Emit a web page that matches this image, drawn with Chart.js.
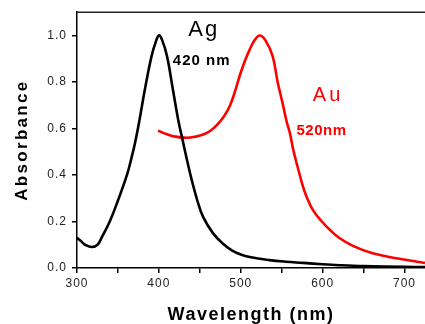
<!DOCTYPE html>
<html>
<head>
<meta charset="utf-8">
<script src="https://cdn.jsdelivr.net/npm/chart.js@4/dist/chart.umd.min.js"></script>
<style>
  html, body { margin: 0; padding: 0; background: #fff; }
  canvas { display: block; }
</style>
</head>
<body>
<canvas id="c" width="425" height="324"></canvas>
<script>
// ---- data ----
const wavelengthsAg = [300, 305, 310, 318, 325, 330, 340, 350, 361, 367, 371, 376, 383, 391, 396, 400, 404, 410, 417, 424, 429, 434, 440, 447, 454, 466, 478, 489, 500, 511, 535, 555, 576, 600, 620, 650, 700, 725];
const absorbanceAg  = [0.13, 0.115, 0.10, 0.09, 0.10, 0.13, 0.20, 0.29, 0.40, 0.48, 0.54, 0.63, 0.77, 0.91, 0.97, 1.00, 0.98, 0.91, 0.77, 0.63, 0.55, 0.47, 0.38, 0.29, 0.22, 0.15, 0.105, 0.076, 0.058, 0.047, 0.034, 0.027, 0.022, 0.016, 0.012, 0.008, 0.005, 0.004];

const wavelengthsAu = [399, 410, 420, 434, 445, 455, 463, 471, 480, 487, 493, 499, 505, 511, 517, 523, 530, 539, 545, 551, 556, 560, 564, 569, 576, 580, 588, 599, 610, 620, 637, 661, 690, 715, 725];
const absorbanceAu  = [0.59, 0.575, 0.565, 0.56, 0.565, 0.575, 0.59, 0.615, 0.655, 0.70, 0.76, 0.83, 0.89, 0.94, 0.98, 1.00, 0.98, 0.91, 0.80, 0.71, 0.63, 0.58, 0.51, 0.44, 0.35, 0.31, 0.25, 0.20, 0.16, 0.13, 0.095, 0.063, 0.042, 0.027, 0.022];

const xTickValues = [300, 350, 400, 450, 500, 550, 600, 650, 700];
const xTickLabels = ['300', '', '400', '', '500', '', '600', '', '700'];
const yTickValues = [0, 0.2, 0.4, 0.6, 0.8, 1.0];
const yTickLabels = ['0.0', '0.2', '0.4', '0.6', '0.8', '1.0'];

const xTitle = 'Wavelength (nm)';
const yTitle = 'Absorbance';

// text annotations anchored in data space: [text, wavelength, absorbance]
const noteText = ['Ag', '420 nm', 'Au', '520nm'];
const noteX = [436, 417, 588, 568];
const noteY = [0.996, 0.873, 0.72, 0.572];
// ------------------------------------------------

const FONT = '"Liberation Sans", Arial, sans-serif';
const noteStyle = [
  { font: '22px ' + FONT, color: '#000', ls: '2px' },
  { font: 'bold 15px ' + FONT, color: '#000', ls: '1px' },
  { font: '20px ' + FONT, color: '#ff0000', ls: '3px' },
  { font: 'bold 15px ' + FONT, color: '#ff0000', ls: '0.5px' }
];

const spacingPlugin = {
  id: 'spacing',
  beforeUpdate(chart) { chart.ctx.letterSpacing = '1px'; },
  beforeDraw(chart) { chart.ctx.letterSpacing = '1px'; }
};

const decorPlugin = {
  id: 'decor',
  afterDraw(chart) {
    const ctx = chart.ctx;
    const a = chart.chartArea;
    const xs = chart.scales.x, ys = chart.scales.y;
    ctx.save();
    // top frame line
    ctx.strokeStyle = '#222';
    ctx.lineWidth = 1.5;
    ctx.beginPath();
    ctx.moveTo(a.left, a.top);
    ctx.lineTo(a.right, a.top);
    ctx.stroke();

    // axis titles
    ctx.fillStyle = '#000';
    ctx.textBaseline = 'alphabetic';
    ctx.textAlign = 'center';
    ctx.letterSpacing = '1.5px';
    ctx.font = 'bold 18px ' + FONT;
    ctx.fillText(xTitle, (a.left + a.right) / 2, a.bottom + 52);

    ctx.save();
    ctx.letterSpacing = '2.3px';
    ctx.font = 'bold 17px ' + FONT;
    ctx.translate(27, (a.top + a.bottom) / 2);
    ctx.rotate(-Math.PI / 2);
    ctx.fillText(yTitle, 0, 0);
    ctx.restore();

    // annotations
    ctx.textAlign = 'left';
    for (let i = 0; i < noteText.length; i++) {
      const s = noteStyle[i];
      ctx.font = s.font;
      ctx.fillStyle = s.color;
      ctx.letterSpacing = s.ls;
      ctx.fillText(noteText[i], xs.getPixelForValue(noteX[i]), ys.getPixelForValue(noteY[i]));
    }
    ctx.restore();
  }
};

const toPoints = (xs, ys) => xs.map((x, i) => ({ x: x, y: ys[i] }));

new Chart(document.getElementById('c'), {
  type: 'line',
  data: {
    datasets: [
      {
        label: 'Ag',
        data: toPoints(wavelengthsAg, absorbanceAg),
        borderColor: '#000000',
        borderWidth: 2.6,
        pointRadius: 0,
        tension: 0.4,
        fill: false
      },
      {
        label: 'Au',
        data: toPoints(wavelengthsAu, absorbanceAu),
        borderColor: '#ff0000',
        borderWidth: 2.6,
        pointRadius: 0,
        tension: 0.4,
        fill: false
      }
    ]
  },
  options: {
    responsive: false,
    animation: false,
    layout: { padding: { top: 8, right: 0, left: 0, bottom: 0 } },
    plugins: {
      legend: { display: false },
      tooltip: { enabled: false },
      title: { display: false }
    },
    scales: {
      x: {
        type: 'linear',
        min: 300,
        max: 725,
        afterBuildTicks: s => { s.ticks = xTickValues.map(v => ({ value: v })); },
        afterFit: s => { s.height = 56; },
        ticks: {
          autoSkip: false,
          maxRotation: 0,
          padding: 3,
          color: '#222',
          font: { family: FONT, size: 12 },
          callback: (v) => { const i = xTickValues.indexOf(v); return i >= 0 ? xTickLabels[i] : ''; }
        },
        grid: { drawOnChartArea: false, drawTicks: true, tickLength: 5, color: '#000', lineWidth: 1.5 },
        border: { display: true, color: '#000', width: 1.5 }
      },
      y: {
        min: 0,
        max: 1.1,
        afterBuildTicks: s => { s.ticks = yTickValues.map(v => ({ value: v })); },
        afterFit: s => { s.width = 77; },
        ticks: {
          autoSkip: false,
          padding: 5,
          color: '#222',
          font: { family: FONT, size: 12 },
          callback: (v) => { const i = yTickValues.findIndex(t => Math.abs(t - v) < 1e-9); return i >= 0 ? yTickLabels[i] : ''; }
        },
        grid: { drawOnChartArea: false, drawTicks: true, tickLength: 5, color: '#000', lineWidth: 1.5 },
        border: { display: true, color: '#000', width: 1.5 }
      }
    }
  },
  plugins: [spacingPlugin, decorPlugin]
});
</script>
</body>
</html>
